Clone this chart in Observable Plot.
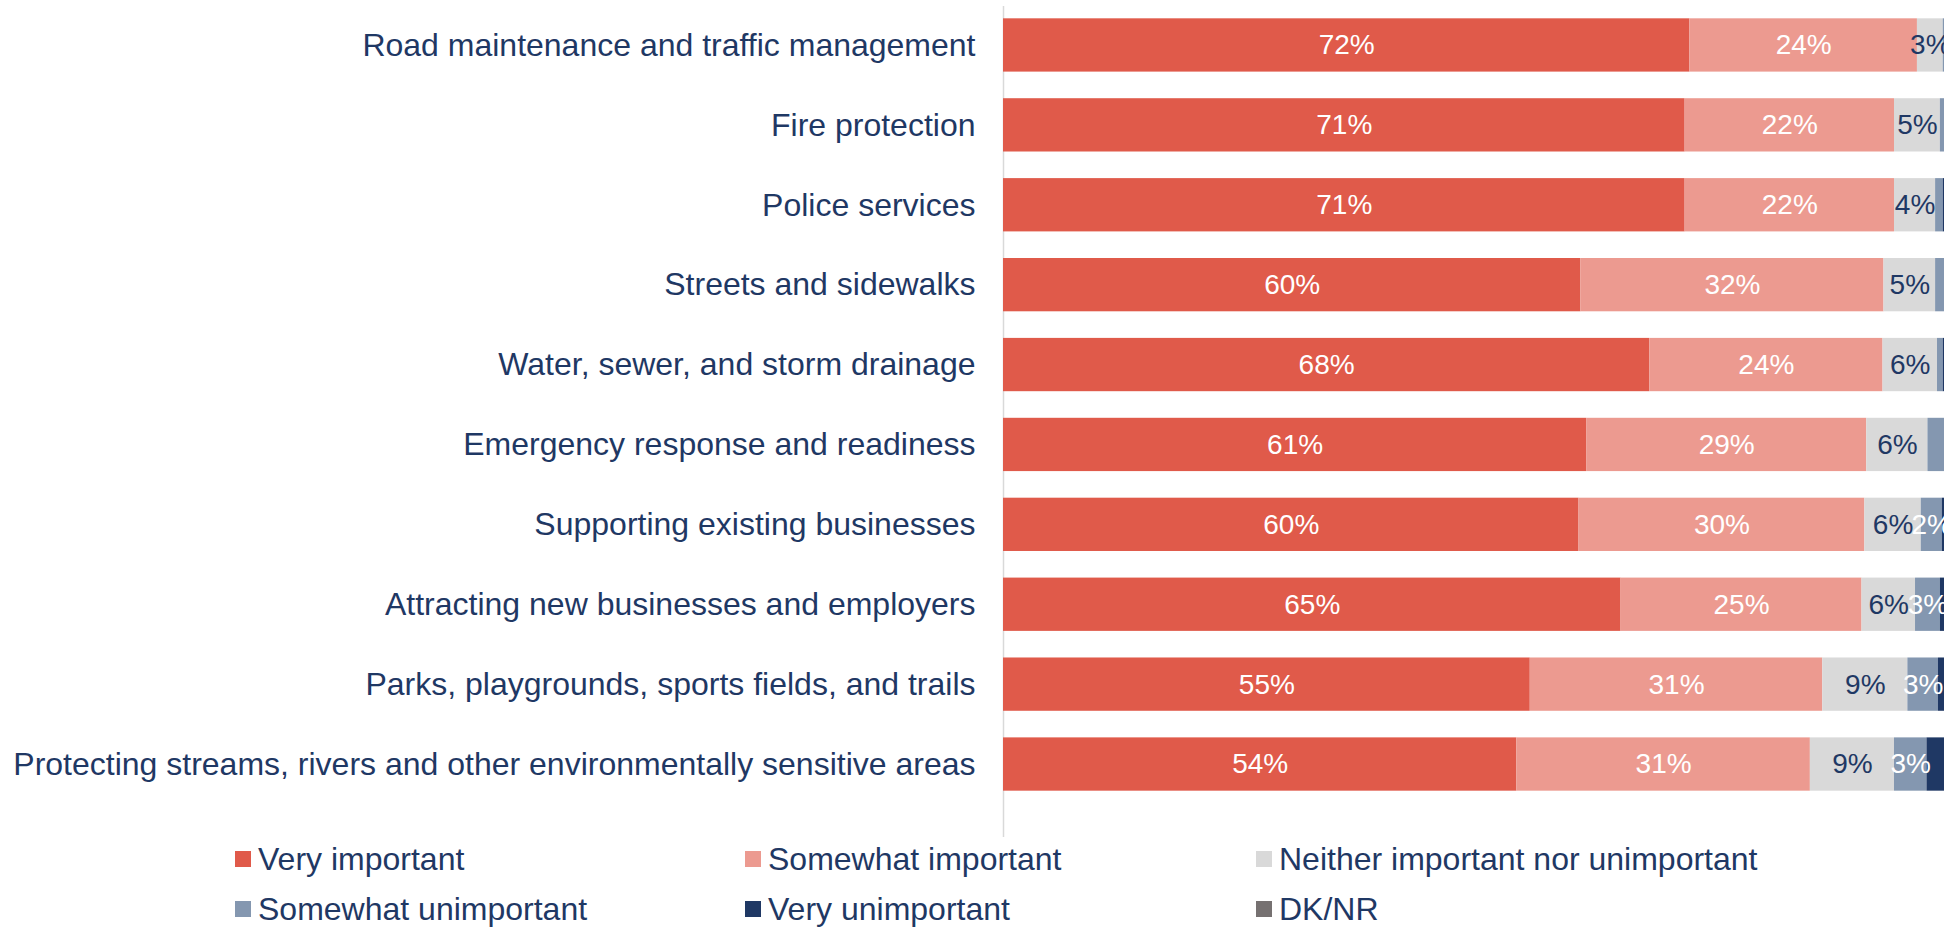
<!DOCTYPE html>
<html>
<head>
<meta charset="utf-8">
<script src="https://cdn.jsdelivr.net/npm/d3@7"></script>
<script src="https://cdn.jsdelivr.net/npm/@observablehq/plot@0.6"></script>
<style>
  html, body { margin: 0; padding: 0; background: #fff; overflow: hidden; }
  body { width: 1944px; height: 927px; position: relative; font-family: "Liberation Sans", Arial, sans-serif; }
  #chart svg { display: block; max-width: none; }
  #legend { position: absolute; left: 235px; top: 834px; display: grid;
            grid-template-columns: 510px 511px 500px; grid-auto-rows: 50px; }
  .item { display: flex; align-items: center; font-size: 32px; color: #1F3864; white-space: nowrap; }
  .sw { width: 16px; height: 16px; margin-right: 7px; flex: none; }
</style>
</head>
<body>
<div id="chart"></div>
<div id="legend"></div>
<script>
const categories = [
  "Road maintenance and traffic management",
  "Fire protection",
  "Police services",
  "Streets and sidewalks",
  "Water, sewer, and storm drainage",
  "Emergency response and readiness",
  "Supporting existing businesses",
  "Attracting new businesses and employers",
  "Parks, playgrounds, sports fields, and trails",
  "Protecting streams, rivers and other environmentally sensitive areas"
];
const responses = ["Very important", "Somewhat important", "Neither important nor unimportant",
                   "Somewhat unimportant", "Very unimportant", "DK/NR"];
const colors = ["#E05A4A", "#EC9A90", "#D9D9D9", "#8497B0", "#1F3864", "#767171"];
const labelled = ["Very important", "Somewhat important", "Neither important nor unimportant", "Somewhat unimportant"];

const veryImportant       = [71.8, 71.3, 71.3, 60.4, 67.6, 61.0, 60.2, 64.6, 55.1, 53.7];
const somewhatImportant   = [23.8, 21.9, 21.9, 31.7, 24.4, 29.3, 29.9, 25.2, 30.6, 30.7];
const neither             = [ 2.7,  4.8,  4.3,  5.4,  5.7,  6.4,  5.9,  5.6,  8.9,  8.8];
const somewhatUnimportant = [ 1.0,  1.2,  0.8,  1.8,  0.6,  1.8,  2.2,  2.6,  3.2,  3.4];
const veryUnimportant     = [ 0.4,  0.5,  1.2,  0.4,  1.4,  0.9,  1.3,  1.6,  1.6,  3.0];
const dkNr                = [ 0.3,  0.3,  0.5,  0.3,  0.5,  0.6,  0.5,  0.5,  0.5,  0.4];

const series = [veryImportant, somewhatImportant, neither, somewhatUnimportant, veryUnimportant, dkNr];
const data = [];
categories.forEach((c, i) => {
  responses.forEach((r, j) => data.push({category: c, response: r, value: series[j][i]}));
});

const navy = "#1F3864";
const labelOf = d => (labelled.includes(d.response) && d.value >= 2) ? `${Math.round(d.value)}%` : "";

const plot = Plot.plot({
  width: 1944,
  height: 842,
  marginLeft: 1003,
  marginRight: -15,
  marginTop: 6,
  marginBottom: 5,
  style: {fontFamily: "'Liberation Sans', Arial, sans-serif", background: "#fff", overflow: "hidden", maxWidth: "none"},
  x: {domain: [0, 100], axis: null},
  y: {domain: categories, paddingInner: 0.333, paddingOuter: 0.367, align: 0.21, round: false, label: null, axis: null},
  color: {domain: responses, range: colors},
  marks: [
    Plot.ruleX([0], {stroke: "#D9D9D9", strokeWidth: 1.5}),
    Plot.barX(data, {x: "value", y: "category", fill: "response", z: "response", order: responses}),
    Plot.text(data, Plot.stackX({x: "value", y: "category", z: "response", order: responses,
      text: d => d.response === responses[2] ? "" : labelOf(d),
      fill: "white", fontSize: 28})),
    Plot.text(data, Plot.stackX({x: "value", y: "category", z: "response", order: responses,
      text: d => d.response === responses[2] ? labelOf(d) : "",
      fill: navy, fontSize: 28})),
    Plot.axisY({tickSize: 0, tickPadding: 28, fontSize: 32, fill: navy, color: navy, label: null})
  ]
});
document.getElementById("chart").appendChild(plot);

const legend = document.getElementById("legend");
responses.forEach((r, j) => {
  const it = document.createElement("div");
  it.className = "item";
  const sw = document.createElement("span");
  sw.className = "sw";
  sw.style.background = colors[j];
  it.appendChild(sw);
  it.appendChild(document.createTextNode(r));
  legend.appendChild(it);
});
</script>
</body>
</html>
